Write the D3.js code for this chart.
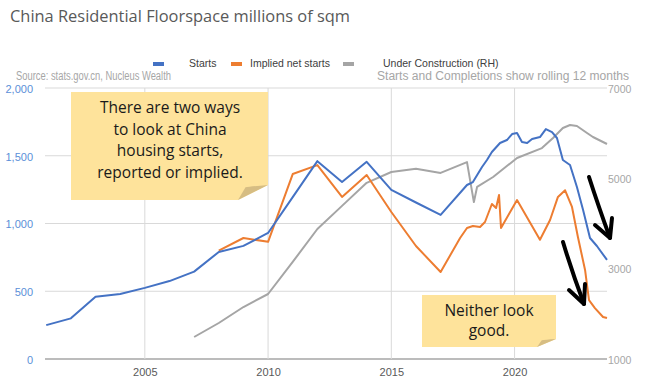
<!DOCTYPE html>
<html>
<head>
<meta charset="utf-8">
<script src="https://cdn.jsdelivr.net/npm/d3@7"></script>
<style>
  body { margin: 0; background: #fff; }
  text { font-family: "Open Sans", sans-serif; }
  .small { font-family: "Liberation Sans", Arial, sans-serif; }
</style>
</head>
<body>
<svg id="chart" width="658" height="385"></svg>
<script>
// starts, millions of sqm (annual to 2017, rolling 12m after)
var startsYears = [2001, 2002, 2003, 2004, 2005, 2006, 2007, 2008, 2009, 2010, 2011, 2012, 2013, 2014, 2015, 2016, 2017,
  2018.07, 2018.31, 2018.68, 2018.88, 2019.08, 2019.41, 2019.69, 2019.90, 2020.10, 2020.30, 2020.51, 2020.71,
  2021.03, 2021.27, 2021.52, 2021.72, 2021.96, 2022.25, 2022.53, 2022.78, 2023.06, 2023.34, 2023.75];
var startsValues = [250, 300, 460, 480, 525, 575, 645, 790, 835, 930, 1195, 1460, 1306, 1455, 1248, 1155, 1063,
  1284, 1306, 1417, 1469, 1528, 1594, 1616, 1660, 1668, 1601, 1594, 1624,
  1638, 1697, 1675, 1631, 1469, 1432, 1269, 1100, 893, 834, 731];

var impliedYears = [2008, 2009, 2010, 2011, 2012, 2013, 2014, 2015, 2016, 2017,
  2017.79, 2018.07, 2018.31, 2018.60, 2018.80, 2019.08, 2019.25, 2019.37, 2019.45, 2020.10,
  2021.03, 2021.44, 2021.76, 2022.05, 2022.33, 2022.57, 2022.86, 2023.02, 2023.26, 2023.59, 2023.75];
var impliedValues = [800, 893, 865, 1365, 1431, 1196, 1358, 1085, 834, 642,
  893, 967, 982, 974, 1011, 1144, 1114, 1210, 967, 1173,
  880, 1026, 1196, 1245, 1122, 900, 657, 435, 376, 310, 302];

// under construction, right hand axis
var ucYears = [2007, 2008, 2009, 2010, 2011, 2012, 2013, 2014, 2015, 2016, 2017,
  2018.07, 2018.35, 2018.48, 2019.13, 2020.10, 2021.11, 2021.56, 2021.96, 2022.25, 2022.53, 2022.94, 2023.18, 2023.75];
var ucValues = [1487, 1797, 2151, 2439, 3150, 3878, 4390, 4900, 5140, 5210, 5120,
  5360, 4475, 4810, 5030, 5450, 5670, 5893, 6115, 6181, 6159, 6004, 5915, 5760];

var leftTicks = [0, 500, 1000, 1500, 2000];
var rightTicks = [1000, 3000, 5000, 7000];
var yearTicks = [2005, 2010, 2015, 2020];

var svg = d3.select("#chart");

var x = d3.scaleLinear().domain([2000.95, 2023.75]).range([45, 607]);
var yL = d3.scaleLinear().domain([0, 2000]).range([359, 88]);
var yR = d3.scaleLinear().domain([1000, 7000]).range([359, 88]);

// gridlines
svg.append("g")
  .selectAll("line.h").data(leftTicks).enter().append("line")
    .attr("x1", 45).attr("x2", 607)
    .attr("y1", function(d) { return yL(d); }).attr("y2", function(d) { return yL(d); })
    .attr("stroke", function(d) { return d === 0 ? "#a6a6a6" : "#d9d9d9"; })
    .attr("stroke-width", function(d) { return d === 0 ? 1.5 : 1; });
svg.append("g")
  .selectAll("line.v").data(yearTicks).enter().append("line")
    .attr("y1", 88).attr("y2", 359)
    .attr("x1", function(d) { return x(d); }).attr("x2", function(d) { return x(d); })
    .attr("stroke", "#d9d9d9");

// axes
var gl = svg.append("g").attr("transform", "translate(36,0)")
  .call(d3.axisLeft(yL).tickValues(leftTicks).tickFormat(d3.format(",")).tickSize(0));
gl.select(".domain").remove();
gl.selectAll("text").attr("class", "small").attr("fill", "#5b8fd8").style("font-size", "11px").attr("x", -3).attr("dy", "0.4em");

var gr = svg.append("g").attr("transform", "translate(608,0)")
  .call(d3.axisRight(yR).tickValues(rightTicks).tickFormat(d3.format("d")).tickSize(0));
gr.select(".domain").remove();
gr.selectAll("text").attr("class", "small").attr("fill", "#a6a6a6").style("font-size", "10.5px").attr("x", 0).attr("dy", "0.4em");

var gb = svg.append("g").attr("transform", "translate(0,365)")
  .call(d3.axisBottom(x).tickValues(yearTicks).tickFormat(d3.format("d")).tickSize(0));
gb.select(".domain").remove();
gb.selectAll("text").attr("class", "small").attr("fill", "#595959").style("font-size", "11px");

// lines
function drawLine(years, values, y, color) {
  var line = d3.line()
    .x(function(d, i) { return x(years[i]); })
    .y(function(d) { return y(d); });
  svg.append("path")
    .datum(values)
    .attr("d", line)
    .attr("fill", "none")
    .attr("stroke", color)
    .attr("stroke-width", 2)
    .attr("stroke-linejoin", "round");
}
drawLine(ucYears, ucValues, yR, "#a5a5a5");
drawLine(impliedYears, impliedValues, yL, "#ed7d31");
drawLine(startsYears, startsValues, yL, "#4472c4");

// title, legend, notes
svg.append("text").attr("x", 10).attr("y", 22)
  .attr("fill", "#595959").style("font-size", "16px")
  .attr("textLength", 340).attr("lengthAdjust", "spacingAndGlyphs")
  .text("China Residential Floorspace millions of sqm");

var legend = [
  {name: "Starts", color: "#4472c4", sx: 153, tx: 189},
  {name: "Implied net starts", color: "#ed7d31", sx: 231, tx: 250},
  {name: "Under Construction (RH)", color: "#a5a5a5", sx: 343, tx: 383}
];
legend.forEach(function(l) {
  svg.append("rect").attr("x", l.sx).attr("y", 62).attr("width", 11).attr("height", 4).attr("fill", l.color);
  svg.append("text").attr("class", "small").attr("x", l.tx).attr("y", 67).attr("fill", "#404040")
    .style("font-size", "10.5px").text(l.name);
});

svg.append("text").attr("class", "small").attr("x", 16).attr("y", 80).attr("fill", "#a6a6a6")
  .style("font-size", "12px").attr("textLength", 155).attr("lengthAdjust", "spacingAndGlyphs")
  .text("Source: stats.gov.cn, Nucleus Wealth");
svg.append("text").attr("class", "small").attr("x", 629).attr("y", 80).attr("fill", "#a6a6a6")
  .attr("text-anchor", "end")
  .style("font-size", "12px").attr("textLength", 252).attr("lengthAdjust", "spacingAndGlyphs")
  .text("Starts and Completions show rolling 12 months");

function note(x0, y0, x1, y1, fold, lines, cx, firstBase, lineGap) {
  svg.append("path")
    .attr("d", "M" + x0 + "," + y0 + "H" + x1 + "V" + (y1 - fold[1]) + "L" + (x1 - fold[0]) + "," + y1 + "H" + x0 + "Z")
    .attr("fill", "#fee39b");
  svg.append("path")
    .attr("d", "M" + (x1 - fold[0]) + "," + y1 + "L" + x1 + "," + (y1 - fold[1]) +
      "Q" + (x1 - fold[0] * 0.6) + "," + (y1 - fold[1] * 0.9) + " " + (x1 - fold[0] * 0.75) + "," + (y1 - fold[1] * 0.85) + "Z")
    .attr("fill", "#d6bd83");
  lines.forEach(function(t, i) {
    svg.append("text").attr("x", cx).attr("y", firstBase + i * lineGap)
      .attr("text-anchor", "middle").attr("fill", "#1a1a1a")
      .style("font-size", "15.5px").text(t);
  });
}
note(71, 92, 268, 200, [30, 15], ["There are two ways", "to look at China", "housing starts,", "reported or implied."], 170, 113, 21.5);
note(422, 295, 556, 347, [19, 8], ["Neither look", "good."], 489, 316, 20);

// arrows
var arrows = [
  {shaft: "M589,177 Q598,205 610,238", head: "M595,225 L610,238 L612,218"},
  {shaft: "M563,242 Q572,272 584,304", head: "M569,290 L584,304 L585,284"}
];
arrows.forEach(function(a) {
  svg.append("path").attr("d", a.shaft).attr("fill", "none").attr("stroke", "#000")
    .attr("stroke-width", 4).attr("stroke-linecap", "round");
  svg.append("path").attr("d", a.head).attr("fill", "none").attr("stroke", "#000")
    .attr("stroke-width", 4).attr("stroke-linecap", "round").attr("stroke-linejoin", "round");
});
</script>
</body>
</html>
